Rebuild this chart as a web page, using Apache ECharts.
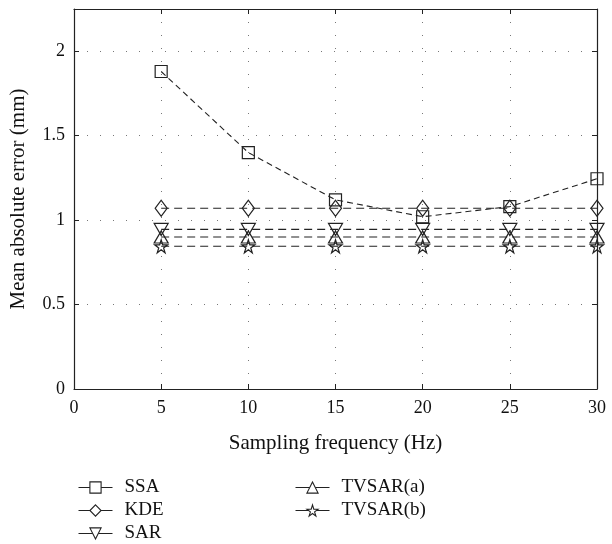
<!DOCTYPE html>
<html>
<head>
<meta charset="utf-8">
<script src="https://cdn.jsdelivr.net/npm/echarts@6/dist/echarts.min.js"></script>
<style>
  html, body { margin: 0; padding: 0; background: #fff; }
  #main { width: 612px; height: 544px; }
</style>
</head>
<body>
<div id="main"></div>
<script>
var freqs = [5, 10, 15, 20, 25, 30];
var ssa = [1.88, 1.40, 1.12, 1.02, 1.08, 1.245];
var kde = [1.07, 1.07, 1.07, 1.07, 1.07, 1.07];
var sar = [0.945, 0.945, 0.945, 0.945, 0.945, 0.945];
var tvsarA = [0.90, 0.90, 0.90, 0.90, 0.90, 0.90];
var tvsarB = [0.845, 0.845, 0.845, 0.845, 0.845, 0.845];

var starPath = 'path://M50,0 L61,35 L98,35 L68,57 L79,91 L50,70 L21,91 L32,57 L2,35 L39,35 Z';
var font = 'Liberation Serif';
var ink = '#222';

function pairs(vals) {
    return freqs.map(function (f, i) { return [f, vals[i]]; });
}

function mk(name, vals, symbol, size, rotate, dash) {
    return {
        name: name,
        type: 'line',
        data: pairs(vals),
        symbol: symbol,
        symbolSize: size,
        symbolRotate: rotate || 0,
        showAllSymbol: true,
        itemStyle: { color: 'rgba(255,255,255,0)', borderColor: ink, borderWidth: 1.2 },
        lineStyle: { color: ink, width: 1.1, type: dash },
        emphasis: { disabled: true },
        z: 3
    };
}

var chart = echarts.init(document.getElementById('main'));

var axisText = { color: '#111', fontFamily: font, fontSize: 18 };
var titleText = { color: '#111', fontFamily: font, fontSize: 21 };
var dotted = { show: true, lineStyle: { color: '#777', type: [1, 12], width: 1 } };
var frame = { show: true, onZero: false, lineStyle: { color: ink, width: 1.2 } };
var inTick = { show: true, inside: true, length: 5, lineStyle: { color: ink } };

var legendBase = {
    orient: 'vertical', top: 473, height: 80,
    itemWidth: 34, itemHeight: 14, itemGap: 4,
    textStyle: { color: '#111', fontFamily: font, fontSize: 19, padding: [0, 0, 0, 7] },
    itemStyle: { color: '#fff', borderColor: ink, borderWidth: 1.1 },
    lineStyle: { color: ink, width: 1, type: 'solid' },
    selectedMode: false
};

chart.setOption({
    animation: false,
    textStyle: { fontFamily: font },
    grid: { left: 72, right: 15, top: 9, bottom: 155 },
    xAxis: [{
        type: 'value', min: 0, max: 30, interval: 5,
        name: 'Sampling frequency (Hz)', nameLocation: 'middle', nameGap: 44,
        nameTextStyle: titleText,
        axisLine: frame,
        axisTick: inTick,
        axisLabel: Object.assign({ margin: 10 }, axisText),
        splitLine: dotted
    }, {
        type: 'value', min: 0, max: 30, interval: 5, position: 'top',
        axisLine: frame, axisTick: inTick,
        axisLabel: { show: false },
        splitLine: { show: false }
    }],
    yAxis: [{
        type: 'value', min: 0, max: 2.25, interval: 0.5,
        name: 'Mean absolute error (mm)', nameLocation: 'middle', nameGap: 45,
        nameTextStyle: titleText,
        axisLine: frame,
        axisTick: inTick,
        axisLabel: Object.assign({ margin: 9, showMaxLabel: false }, axisText),
        splitLine: dotted
    }, {
        type: 'value', min: 0, max: 2.25, interval: 0.5, position: 'right',
        axisLine: frame, axisTick: inTick,
        axisLabel: { show: false },
        splitLine: { show: false }
    }],
    legend: [
        Object.assign({}, legendBase, { data: ['SSA', 'KDE', 'SAR'], left: 73 }),
        Object.assign({}, legendBase, { data: ['TVSAR(a)', 'TVSAR(b)'], left: 290 })
    ],
    series: [
        mk('SSA', ssa, 'rect', 12, 0, [6, 4]),
        mk('KDE', kde, 'diamond', [12, 16], 0, [8, 5]),
        mk('SAR', sar, 'triangle', [14, 12], 180, [8, 5]),
        mk('TVSAR(a)', tvsarA, 'triangle', [14, 12], 0, [8, 5]),
        mk('TVSAR(b)', tvsarB, starPath, 13, 0, [8, 5])
    ]
});
</script>
</body>
</html>
